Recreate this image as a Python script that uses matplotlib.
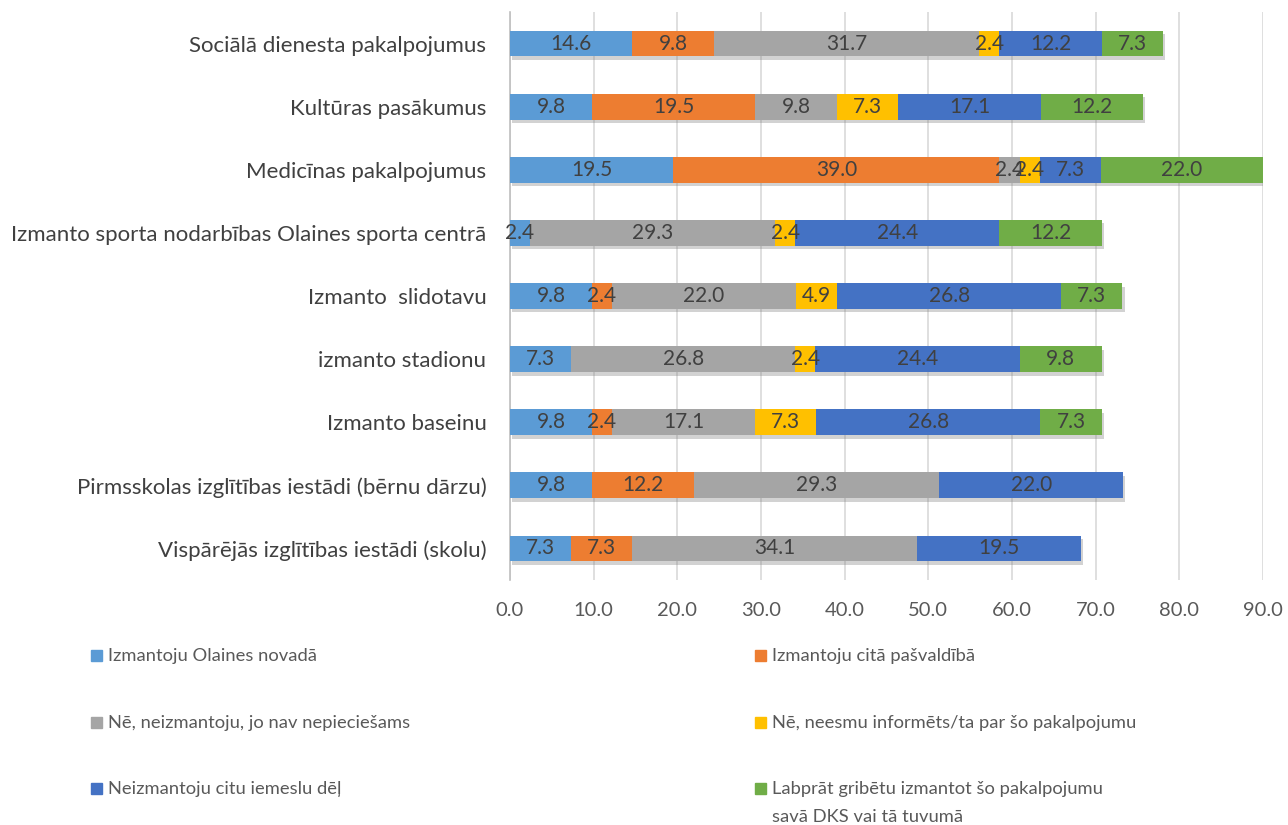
import matplotlib
matplotlib.use("Agg")
import matplotlib.pyplot as plt
import matplotlib.patheffects as pe
import numpy as np

plt.rcParams['font.family'] = ['Lato', 'DejaVu Sans']

categories = [
    "Sociālā dienesta pakalpojumus",
    "Kultūras pasākumus",
    "Medicīnas pakalpojumus",
    "Izmanto sporta nodarbības Olaines sporta centrā",
    "Izmanto  slidotavu",
    "izmanto stadionu",
    "Izmanto baseinu",
    "Pirmsskolas izglītības iestādi (bērnu dārzu)",
    "Vispārējās izglītības iestādi (skolu)",
]

series_names = [
    "Izmantoju Olaines novadā",
    "Izmantoju citā pašvaldībā",
    "Nē, neizmantoju, jo nav nepieciešams",
    "Nē, neesmu informēts/ta par šo pakalpojumu",
    "Neizmantoju citu iemeslu dēļ",
    "Labprāt gribētu izmantot šo pakalpojumu\nsavā DKS vai tā tuvumā",
]

olaines = [14.6, 9.8, 19.5, 2.4, 9.8, 7.3, 9.8, 9.8, 7.3]
cita = [9.8, 19.5, 39.0, 0.0, 2.4, 0.0, 2.4, 12.2, 7.3]
nav_vajag = [31.7, 9.8, 2.4, 29.3, 22.0, 26.8, 17.1, 29.3, 34.1]
neinformets = [2.4, 7.3, 2.4, 2.4, 4.9, 2.4, 7.3, 0.0, 0.0]
citi_iemesli = [12.2, 17.1, 7.3, 24.4, 26.8, 24.4, 26.8, 22.0, 19.5]
gribetu = [7.3, 12.2, 22.0, 12.2, 7.3, 9.8, 7.3, 0.0, 0.0]

series = [olaines, cita, nav_vajag, neinformets, citi_iemesli, gribetu]
colors = ["#5B9BD5", "#ED7D31", "#A5A5A5", "#FFC000", "#4472C4", "#70AD47"]

fig = plt.figure(figsize=(12.88, 8.25), dpi=100)
ax = fig.add_axes([510 / 1288, 1 - 580 / 825, 753 / 1288, 568 / 825])

y = np.arange(len(categories))
left = np.zeros(len(categories))
shadow = [pe.SimplePatchShadow(offset=(1.5, -2.5), shadow_rgbFace="#808080", alpha=0.35), pe.Normal()]
for vals, color in zip(series, colors):
    vals = np.array(vals)
    bars = ax.barh(y, vals, left=left, height=0.41, color=color, zorder=3)
    for b in bars:
        b.set_path_effects(shadow)
    labels = [f"{v:.1f}" if v > 0 else "" for v in vals]
    ax.bar_label(bars, labels=labels, label_type="center", fontsize=15,
                 color="#404040", zorder=4)
    left += vals

ax.set_xlim(0, 90)
ax.set_ylim(len(categories) - 0.5, -0.5)
ax.set_xticks(np.arange(0, 91, 10))
ax.set_xticklabels([f"{t:.1f}" for t in np.arange(0, 91, 10)])
ax.set_yticks(y)
ax.set_yticklabels(categories)
ax.tick_params(axis="y", length=0, pad=17, labelsize=16, labelcolor="#404040")
ax.tick_params(axis="x", length=0, pad=16, labelsize=14.5, labelcolor="#595959")
ax.grid(axis="x", color="#D9D9D9", linewidth=1.2, zorder=0)
for side in ["top", "right", "bottom"]:
    ax.spines[side].set_visible(False)
ax.spines["left"].set_color("#BFBFBF")
ax.spines["left"].set_linewidth(1.2)

# legend, two columns, drawn by hand
col_x = [91, 755]
row_y = [655, 722, 788]
for i, (name, color) in enumerate(zip(series_names, colors)):
    cx = col_x[i % 2]
    cy = row_y[i // 2]
    fig.patches.append(plt.Rectangle((cx / 1288, 1 - (cy + 5.5) / 825), 11 / 1288, 11 / 825,
                                     transform=fig.transFigure, color=color, figure=fig))
    for k, line in enumerate(name.split("\n")):
        fig.text((cx + 17) / 1288, 1 - (cy + 6 + 28 * k) / 825, line, fontsize=13.2,
                 color="#595959", va="baseline")

fig.savefig("out.png", dpi=100)
